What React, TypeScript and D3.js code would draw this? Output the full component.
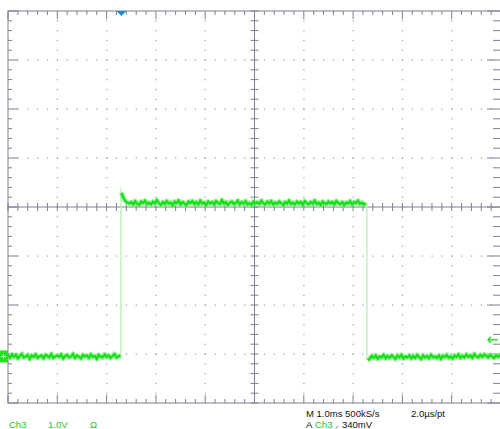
import React from "react";
import * as d3 from "d3";

// ---- data (volts, 1.0 V/div, 1.0 ms/div) ----
const sampleStep = 0.04; // ms
const lowAStart = 0.0;
const lowA = [0.02,-0.03,0.04,-0.01,0.03,-0.04,0.01,0.05,-0.02,0.00,
  0.03,-0.05,0.02,-0.01,0.04,-0.03,0.00,0.02,-0.04,0.03,
  0.01,-0.02,0.05,-0.03,0.00,0.02,-0.01,0.04,-0.04,0.01,
  0.03,-0.02,0.00,0.05,-0.03,0.02,-0.01,-0.04,0.03,0.00,
  0.02,-0.03,0.04,-0.01,0.01,-0.05,0.03,0.00,-0.02,0.04,
  -0.01,0.02,-0.03,0.01,0.05,-0.02,0.00,0.03];
const highStart = 2.30;
const high = [3.34,3.24,3.17,3.14,3.12,
  3.15,3.10,3.17,3.12,3.09,3.16,3.13,3.18,3.11,3.14,
  3.10,3.16,3.12,3.19,3.13,3.09,3.15,3.11,3.17,3.12,
  3.14,3.08,3.16,3.13,3.18,3.10,3.15,3.12,3.09,3.16,
  3.13,3.17,3.11,3.15,3.10,3.18,3.12,3.14,3.09,3.16,
  3.12,3.15,3.10,3.17,3.13,3.11,3.19,3.12,3.15,3.09,
  3.14,3.16,3.11,3.13,3.18,3.10,3.15,3.12,3.17,3.10,
  3.13,3.09,3.16,3.12,3.15,3.11,3.18,3.13,3.10,3.16,
  3.12,3.17,3.10,3.14,3.11,3.16,3.13,3.09,3.15,3.12,
  3.18,3.11,3.14,3.10,3.16,3.12,3.15,3.09,3.17,3.13,
  3.10,3.15,3.12,3.18,3.11,3.14,3.09,3.16,3.13,3.11,
  3.16,3.12,3.15,3.10,3.17,3.13,3.11,3.15,3.09,3.14,
  3.12,3.17,3.10,3.15,3.13,3.18,3.11,3.14,3.10,3.13];
const lowBStart = 7.30;
const lowB = [-0.08,-0.04,0.01,-0.03,0.02,-0.05,0.00,-0.02,0.03,-0.04,
  0.01,-0.03,0.02,-0.01,-0.05,0.02,-0.02,0.03,-0.04,0.00,
  -0.02,0.02,-0.04,0.01,-0.03,0.03,-0.01,-0.05,0.02,-0.02,
  0.01,-0.04,0.03,-0.02,0.00,-0.03,0.02,-0.05,0.01,-0.01,
  0.03,-0.03,0.00,-0.04,0.02,-0.01,0.04,-0.03,0.01,-0.02,
  0.04,-0.01,0.02,-0.03,0.05,0.00,-0.02,0.03,-0.01,0.04,
  0.01,-0.02,0.03,0.00,-0.03,0.02,-0.01,0.03,0.00];
const risingEdge = { t: 2.29, from: -0.05, to: 3.45 };
const fallingEdge = { t: 7.28, from: 3.13, to: -0.08 };
const triggerTime = 2.30;
const triggerLevel = 0.34;
const channelOffsetDiv = -3.05;
const footerLeft = ["Ch3", "1.0V", "Ω"];
const footerRight1 = ["M 1.0ms 500kS/s", "2.0µs/pt"];
const footerRight2 = ["A", "Ch3", "⸝", "340mV"];

const W = 500, H = 429;
const gridColor = "#7c8090";
const dotColor = "#9a9ca8";
const font = "'Liberation Sans', Arial, sans-serif";

export default function App() {
  const x = d3.scaleLinear().domain([0, 10]).range([8, 501]);
  const yd = d3.scaleLinear().domain([-4, 4]).range([403, 11]);
  const yv = (v: number) => yd(v + channelOffsetDiv);

  const majorX = d3.range(0, 11);
  const minorX = d3.range(0, 50.001, 1).map((i) => i / 5);
  const majorY = d3.range(-4, 5);
  const minorY = d3.range(-20, 20.001, 1).map((i) => i / 5);

  const seg = (arr: number[], start: number) =>
    arr.map((v, i) => [start + i * sampleStep, v] as [number, number]);
  const line = d3.line<[number, number]>().x((d) => x(d[0])).y((d) => yv(d[1]));
  const segs = [seg(lowA, lowAStart), seg(high, highStart), seg(lowB, lowBStart)];

  const elems: React.ReactNode[] = [];
  majorX.filter((i) => i !== 0 && i !== 5 && i !== 10).forEach((i) =>
    minorY.forEach((j, k) => {
      if (Math.abs(j) >= 4) return;
      elems.push(<rect key={`dv${i}_${k}`} x={x(i) - 0.5} y={yd(j) - 0.5} width={1.2} height={1.2} fill={dotColor} />);
    })
  );
  majorY.filter((j) => j !== 0 && Math.abs(j) !== 4).forEach((j) =>
    minorX.forEach((i, k) => {
      if (i <= 0 || i >= 10) return;
      elems.push(<rect key={`dh${j}_${k}`} x={x(i) - 0.5} y={yd(j) - 0.5} width={1.2} height={1.2} fill={dotColor} />);
    })
  );
  minorX.forEach((i, k) => {
    const major = Math.abs(i - Math.round(i)) < 1e-6;
    const len = major ? 8 : 4;
    elems.push(<line key={`tt${k}`} x1={x(i)} x2={x(i)} y1={yd(4)} y2={yd(4) + len} stroke={gridColor} />);
    elems.push(<line key={`tb${k}`} x1={x(i)} x2={x(i)} y1={yd(-4)} y2={yd(-4) - len} stroke={gridColor} />);
    elems.push(<line key={`tc${k}`} x1={x(i)} x2={x(i)} y1={yd(0) - 4} y2={yd(0) + 4} stroke={gridColor} />);
  });
  minorY.forEach((j, k) => {
    const major = Math.abs(j - Math.round(j)) < 1e-6;
    const len = major ? 10 : 4;
    elems.push(<line key={`tl${k}`} y1={yd(j)} y2={yd(j)} x1={x(0)} x2={x(0) + len} stroke={gridColor} />);
    elems.push(<line key={`tr${k}`} y1={yd(j)} y2={yd(j)} x1={x(10)} x2={x(10) - len - 4} stroke={gridColor} />);
    elems.push(<line key={`tm${k}`} y1={yd(j)} y2={yd(j)} x1={x(5) - 4} x2={x(5) + 4} stroke={gridColor} />);
  });

  return (
    <svg width={W} height={H} style={{ position: "absolute", left: 0, top: 0, background: "#fff" }}>
      <rect width={W} height={H} fill="#fff" />
      {elems}
      <rect x={x(0)} y={yd(4)} width={x(10) - x(0)} height={yd(-4) - yd(4)} fill="none" stroke={gridColor} />
      <line x1={x(0)} x2={x(10)} y1={yd(0)} y2={yd(0)} stroke={gridColor} />
      <line x1={x(5)} x2={x(5)} y1={yd(4)} y2={yd(-4)} stroke={gridColor} />

      {/* edges */}
      <line x1={x(risingEdge.t)} x2={x(risingEdge.t)} y1={yv(risingEdge.from)} y2={yv(risingEdge.to)} stroke="#b4f2b4" strokeWidth={1.3} />
      <line x1={x(fallingEdge.t)} x2={x(fallingEdge.t)} y1={yv(fallingEdge.from)} y2={yv(fallingEdge.to)} stroke="#b4f2b4" strokeWidth={1.3} />

      {/* trace: soft outer band + bright core */}
      {segs.map((s, i) => (
        <path key={`to${i}`} d={line(s) || ""} fill="none" stroke="#7cee7c" strokeOpacity={0.75} strokeWidth={5} strokeLinejoin="round" />
      ))}
      {segs.map((s, i) => (
        <path key={`tc${i}`} d={line(s) || ""} fill="none" stroke="#12e012" strokeWidth={2.2} strokeLinejoin="miter" />
      ))}

      {/* trigger position marker */}
      <path d={`M${x(triggerTime) - 5},${yd(4)} L${x(triggerTime) + 5},${yd(4)} L${x(triggerTime)},${yd(4) + 5} Z`} fill="#1a8ad4" />
      {/* channel ground marker */}
      <rect x={0} y={yv(0) - 6} width={8} height={12} fill="#22e022" />
      <line x1={1} x2={6} y1={yv(0)} y2={yv(0)} stroke="#d8ffd8" strokeWidth={1} />
      <line x1={3.5} x2={3.5} y1={yv(0) - 2} y2={yv(0) + 2} stroke="#d8ffd8" strokeWidth={1} />
      {/* trigger level arrow */}
      <g stroke="#22e022" strokeWidth={1.4} fill="none">
        <line x1={488} x2={498} y1={yv(triggerLevel)} y2={yv(triggerLevel)} />
        <path d={`M${491},${yv(triggerLevel) - 3} L${488},${yv(triggerLevel)} L${491},${yv(triggerLevel) + 3}`} />
      </g>

      {/* footer */}
      <g fontFamily={font} fontSize={9.5}>
        <text x={9} y={428} fill="#22c822">{footerLeft[0]}</text>
        <text x={48} y={428} fill="#22c822">{footerLeft[1]}</text>
        <text x={90} y={428} fill="#22c822">{footerLeft[2]}</text>
        <text x={306} y={417} fill="#111">{footerRight1[0]}</text>
        <text x={411} y={417} fill="#111">{footerRight1[1]}</text>
        <text x={306} y={428} fill="#111">{footerRight2[0]}</text>
        <text x={315} y={428} fill="#22c822">{footerRight2[1]}</text>
        <text x={335} y={428} fill="#111" fontSize={8}>{footerRight2[2]}</text>
        <text x={342} y={428} fill="#111">{footerRight2[3]}</text>
      </g>
    </svg>
  );
}
